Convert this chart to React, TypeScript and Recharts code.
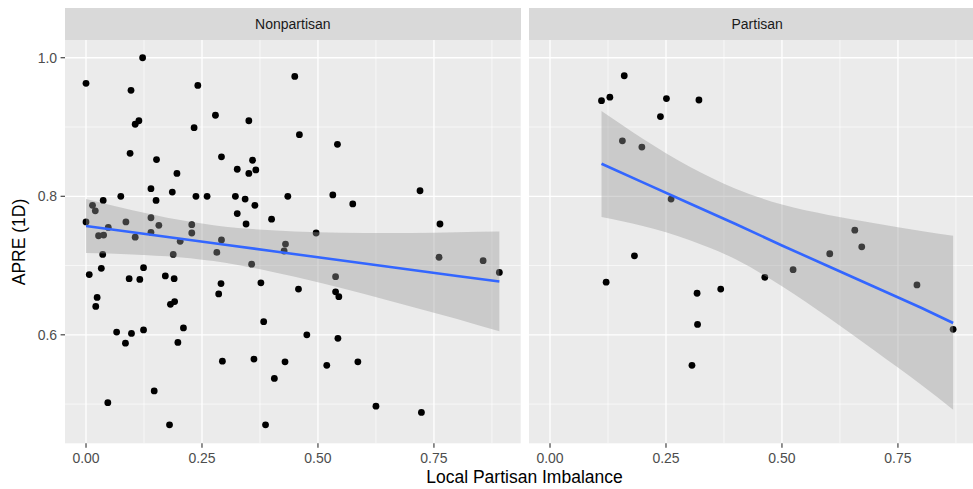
import { ComposedChart, Scatter, Area, Line, XAxis, YAxis, CartesianGrid, ReferenceLine } from 'recharts'

// ─── Data ────────────────────────────────────────────────────────────────────
// [Local Partisan Imbalance, APRE (1D)]
const nonpartisanPoints: [number, number][] = [
  [0.000, 0.963], [0.122, 1.000], [0.097, 0.953], [0.106, 0.904], [0.114, 0.909],
  [0.095, 0.862], [0.241, 0.960], [0.233, 0.899], [0.279, 0.917], [0.351, 0.909],
  [0.450, 0.973], [0.460, 0.889], [0.152, 0.853], [0.292, 0.857], [0.359, 0.852],
  [0.326, 0.839], [0.351, 0.833], [0.366, 0.838], [0.196, 0.833], [0.140, 0.811],
  [0.186, 0.806], [0.151, 0.794], [0.075, 0.800], [0.037, 0.794], [0.237, 0.800],
  [0.261, 0.800], [0.322, 0.800], [0.343, 0.796], [0.364, 0.787], [0.435, 0.800],
  [0.014, 0.787], [0.020, 0.779], [0.000, 0.763], [0.086, 0.763], [0.140, 0.769],
  [0.326, 0.775], [0.345, 0.760], [0.400, 0.767], [0.228, 0.759], [0.157, 0.758],
  [0.140, 0.748], [0.228, 0.747], [0.048, 0.755], [0.027, 0.743], [0.038, 0.744],
  [0.106, 0.741], [0.292, 0.737], [0.203, 0.735], [0.430, 0.731], [0.427, 0.721],
  [0.188, 0.716], [0.282, 0.719], [0.357, 0.702], [0.036, 0.716], [0.033, 0.696],
  [0.007, 0.687], [0.124, 0.697], [0.093, 0.681], [0.116, 0.680], [0.171, 0.685],
  [0.190, 0.681], [0.291, 0.674], [0.377, 0.675], [0.286, 0.659], [0.458, 0.666],
  [0.024, 0.654], [0.021, 0.641], [0.191, 0.648], [0.182, 0.644], [0.383, 0.619],
  [0.066, 0.604], [0.098, 0.602], [0.124, 0.607], [0.210, 0.610], [0.085, 0.588],
  [0.198, 0.589], [0.476, 0.600], [0.294, 0.562], [0.362, 0.565], [0.429, 0.561],
  [0.406, 0.537], [0.147, 0.519], [0.047, 0.502], [0.180, 0.470], [0.387, 0.470],
  [0.542, 0.875], [0.532, 0.802], [0.575, 0.789], [0.720, 0.808], [0.763, 0.760],
  [0.496, 0.747], [0.761, 0.712], [0.856, 0.707], [0.891, 0.690], [0.538, 0.684],
  [0.538, 0.662], [0.545, 0.655], [0.543, 0.595], [0.519, 0.556], [0.586, 0.561],
  [0.625, 0.497], [0.723, 0.488],
]

const partisanPoints: [number, number][] = [
  [0.111, 0.938], [0.129, 0.943], [0.156, 0.880], [0.160, 0.974], [0.198, 0.871],
  [0.238, 0.915], [0.251, 0.941], [0.321, 0.939], [0.261, 0.796], [0.657, 0.751],
  [0.672, 0.727], [0.182, 0.714], [0.121, 0.676], [0.317, 0.660], [0.368, 0.666],
  [0.318, 0.615], [0.306, 0.556], [0.463, 0.683], [0.524, 0.694], [0.603, 0.717],
  [0.791, 0.672], [0.869, 0.608],
]

// smoother (lm) line and its confidence band, read at a few x positions
const nonpartisanBandX = [0, 0.1, 0.2, 0.3, 0.4, 0.5, 0.6, 0.7, 0.8, 0.891]
const nonpartisanFit = [0.757, 0.748, 0.739, 0.730, 0.721, 0.712, 0.703, 0.694, 0.685, 0.677]
const nonpartisanLower = [0.718, 0.716, 0.712, 0.704, 0.691, 0.676, 0.659, 0.641, 0.623, 0.605]
const nonpartisanUpper = [0.796, 0.780, 0.766, 0.756, 0.751, 0.748, 0.747, 0.747, 0.748, 0.749]

const partisanBandX = [0.111, 0.2, 0.3, 0.4, 0.5, 0.6, 0.7, 0.8, 0.869]
const partisanFit = [0.847, 0.820, 0.790, 0.760, 0.729, 0.699, 0.669, 0.639, 0.617]
const partisanLower = [0.770, 0.757, 0.737, 0.709, 0.670, 0.625, 0.577, 0.528, 0.492]
const partisanUpper = [0.923, 0.883, 0.843, 0.811, 0.788, 0.773, 0.761, 0.750, 0.743]

const X_TICKS = [0, 0.25, 0.5, 0.75]
const X_MINOR = [0.125, 0.375, 0.625, 0.875]
const Y_TICKS = [0.6, 0.8, 1.0]
const Y_MINOR = [0.5, 0.7, 0.9]

// ─── ggplot2 grey theme ──────────────────────────────────────────────────────
const PANEL_BG = '#EBEBEB'
const STRIP_BG = '#D9D9D9'
const SMOOTH_BLUE = '#3366FF'
const FONT = '"Liberation Sans", Arial, Helvetica, sans-serif'

const X_DOMAIN: [number, number] = [-0.0453, 0.937]
const Y_DOMAIN: [number, number] = [0.4434, 1.0256]

const PLOT_W = 455.7
const PLOT_H = 403.3
const PLOT_TOP = 40
const Y_AXIS_W = 65
const X_AXIS_H = 30
const PANEL_STEP = 464.3

const AXIS_TICK = { fontSize: 14, fill: '#4D4D4D', fontFamily: FONT }

function buildBand(xs: number[], fit: number[], lo: number[], hi: number[]) {
  return xs.map((x, i) => ({ x, fit: fit[i], band: [lo[i], hi[i]] }))
}

const dot = (props: any) => <circle cx={props.cx} cy={props.cy} r={3.4} fill="#000000" />

function Panel({ title, points, band, left, showY }: {
  title: string
  points: [number, number][]
  band: { x: number; fit: number; band: number[] }[]
  left: number
  showY: boolean
}) {
  const yw = showY ? Y_AXIS_W : 0
  const plotLeft = left + Y_AXIS_W
  return (
    <>
      <div
        style={{
          position: 'absolute', left: plotLeft, top: 8, width: PLOT_W, height: 32,
          background: STRIP_BG, color: '#1A1A1A', fontSize: 14, lineHeight: '32px', textAlign: 'center',
        }}
      >
        {title}
      </div>
      <div style={{ position: 'absolute', left: left + Y_AXIS_W - yw, top: PLOT_TOP }}>
        <ComposedChart
          width={PLOT_W + yw}
          height={PLOT_H + X_AXIS_H}
          data={band}
          margin={{ top: 0, right: 0, bottom: 0, left: 0 }}
        >
          <CartesianGrid horizontal={false} vertical={false} fill={PANEL_BG} stroke="none" />
          <XAxis
            type="number" dataKey="x" domain={X_DOMAIN} allowDataOverflow ticks={X_TICKS}
            tickFormatter={(v: number) => v.toFixed(2)} height={X_AXIS_H}
            axisLine={false} tickLine={{ stroke: '#333333', strokeWidth: 1.1 }} tickSize={4.4} tickMargin={5}
            tick={AXIS_TICK} interval={0}
          />
          <YAxis
            type="number" domain={Y_DOMAIN} allowDataOverflow ticks={Y_TICKS} hide={!showY} width={yw}
            tickFormatter={(v: number) => v.toFixed(1)}
            axisLine={false} tickLine={{ stroke: '#333333', strokeWidth: 1.1 }} tickSize={4.4} tickMargin={3.5}
            tick={AXIS_TICK} interval={0}
          />
          {/* minor grid first, then major */}
          {X_MINOR.map((v) => (
            <ReferenceLine key={'xm' + v} x={v} stroke="#FFFFFF" strokeWidth={0.65} zIndex={-50} />
          ))}
          {Y_MINOR.map((v) => (
            <ReferenceLine key={'ym' + v} y={v} stroke="#FFFFFF" strokeWidth={0.65} zIndex={-50} />
          ))}
          {X_TICKS.map((v) => (
            <ReferenceLine key={'x' + v} x={v} stroke="#FFFFFF" strokeWidth={1.3} zIndex={-40} />
          ))}
          {Y_TICKS.map((v) => (
            <ReferenceLine key={'y' + v} y={v} stroke="#FFFFFF" strokeWidth={1.3} zIndex={-40} />
          ))}
          <Scatter
            data={points.map(([x, y]) => ({ x, y }))}
            dataKey="y" shape={dot} isAnimationActive={false} zIndex={600}
          />
          {/* ribbon sits over the points, like geom_smooth does */}
          <Area
            dataKey="band" type="monotone" stroke="none" fill="#999999" fillOpacity={0.4}
            isAnimationActive={false} dot={false} activeDot={false} zIndex={700}
          />
          <Line
            dataKey="fit" type="linear" stroke={SMOOTH_BLUE} strokeWidth={2.6}
            dot={false} activeDot={false} isAnimationActive={false} zIndex={800}
          />
        </ComposedChart>
      </div>
    </>
  )
}

export default function App() {
  return (
    <div
      style={{
        position: 'absolute', left: 0, top: 0, width: 973, height: 489, overflow: 'hidden',
        background: '#FFFFFF', fontFamily: FONT,
      }}
    >
      <Panel
        title="Nonpartisan" points={nonpartisanPoints} left={0} showY
        band={buildBand(nonpartisanBandX, nonpartisanFit, nonpartisanLower, nonpartisanUpper)}
      />
      <Panel
        title="Partisan" points={partisanPoints} left={PANEL_STEP} showY={false}
        band={buildBand(partisanBandX, partisanFit, partisanLower, partisanUpper)}
      />
      <div
        style={{
          position: 'absolute', left: 18.5 - 100, top: 241.7 - 11, width: 200, height: 22,
          transform: 'rotate(-90deg)', textAlign: 'center', fontSize: 17.5, lineHeight: '22px', color: '#000',
        }}
      >
        APRE (1D)
      </div>
      <div
        style={{
          position: 'absolute', left: 524.5 - 200, top: 477 - 11, width: 400, height: 22,
          textAlign: 'center', fontSize: 17.5, lineHeight: '22px', color: '#000',
        }}
      >
        Local Partisan Imbalance
      </div>
    </div>
  )
}
